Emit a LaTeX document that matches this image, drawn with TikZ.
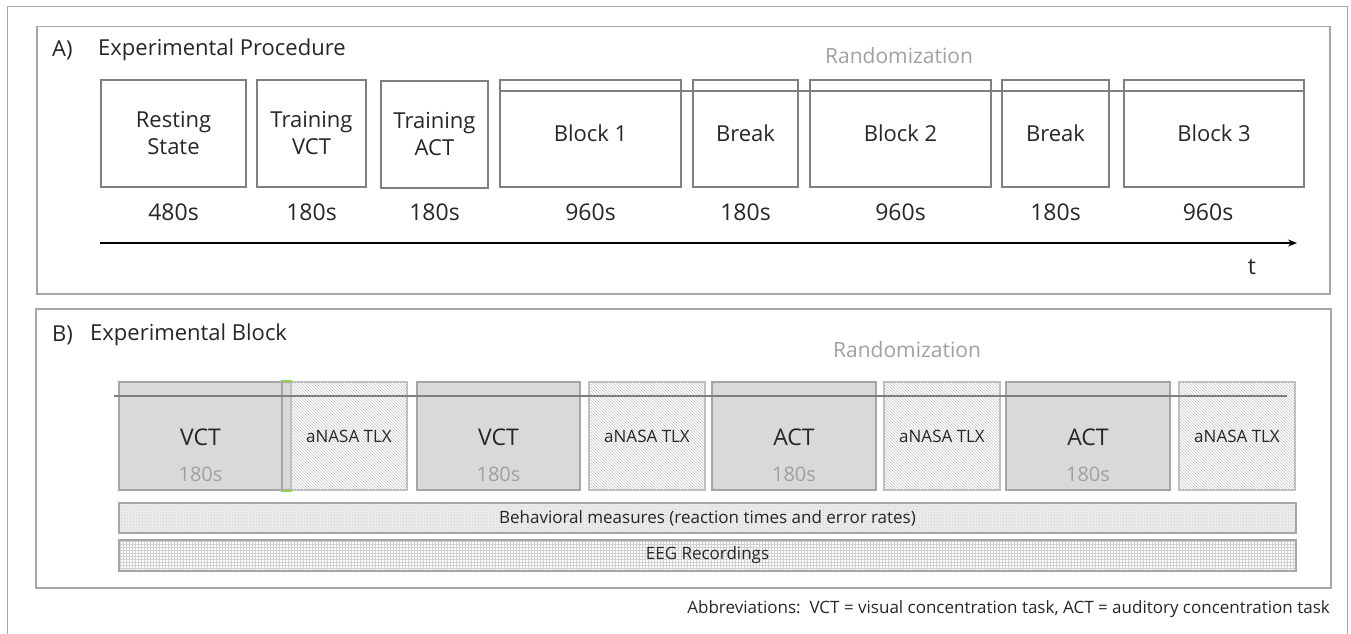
\documentclass[tikz,border=0pt]{standalone}
\usepackage{fontspec}
\setmainfont{Open Sans}
\usetikzlibrary{patterns,arrows.meta}
\definecolor{boxgray}{HTML}{7F7F7F}
\definecolor{framegray}{HTML}{A6A6A6}
\definecolor{fillgray}{HTML}{D9D9D9}
\definecolor{edgegray}{HTML}{A6A6A6}
\definecolor{hatchgray}{HTML}{C4C4C4}
\definecolor{lightedge}{HTML}{C0C0C0}
\definecolor{softtext}{HTML}{A0A0A0}
\definecolor{maintext}{HTML}{262626}
\definecolor{greentick}{HTML}{92D050}
\begin{document}
\begin{tikzpicture}[x=1pt,y=-1pt,
  panel/.style={draw=framegray,line width=1.5pt},
  abox/.style={draw=boxgray,line width=2pt,anchor=north west,inner sep=0pt,
    align=center,text=maintext,font=\fontsize{22}{27}\selectfont,minimum height=107pt},
  dur/.style={text=maintext,font=\fontsize{23}{27}\selectfont,inner sep=0pt},
  title/.style={text=maintext,font=\fontsize{22}{26}\selectfont,anchor=west,inner sep=0pt},
  randtext/.style={text=softtext,font=\fontsize{21}{25}\selectfont,inner sep=0pt},
  taskbox/.style={draw=edgegray,line width=2pt,fill=fillgray,anchor=north west,inner sep=0pt,
    minimum height=108pt},
  nasabox/.style={draw=lightedge,line width=2pt,anchor=north west,inner sep=0pt,
    minimum height=108pt,preaction={fill=white},pattern=north west lines,pattern color=hatchgray,
    text=maintext,font=\fontsize{17}{20}\selectfont},
  tasklabel/.style={text=maintext,font=\fontsize{23}{27}\selectfont,inner sep=0pt},
  tasktime/.style={text=softtext,font=\fontsize{20}{24}\selectfont,inner sep=0pt},
  barbox/.style={draw=edgegray,line width=2pt,anchor=north west,inner sep=0pt,
    minimum width=1177pt},
  bartext/.style={text=maintext,font=\fontsize{17}{20}\selectfont,inner sep=0pt},
  randline/.style={draw=boxgray,line width=2.5pt}]
\useasboundingbox (0,0) rectangle (1351,634);
% outer frame (bottom edge outside the picture)
\draw[draw=framegray,line width=1.5pt] (7.5,640) -- (7.5,6.5) -- (1347.5,6.5) -- (1347.5,640);
% ---------------- Panel A ----------------
\node[panel,anchor=north west,minimum width=1293pt,minimum height=267pt,inner sep=0pt] (panA) at (36,26) {};
\node[title] (labA) at (52,50) {A)};
\node[title] (titA) at (98,50) {Experimental Procedure};
\node[randtext] (randA) at (899,56) {Randomization};

\node[abox,minimum width=145pt] (rs) at (100,79) {Resting\\State};
\node[abox,minimum width=109pt] (tv) at (256,79) {Training\\VCT};
\node[abox,minimum width=107pt] (ta) at (380,80) {Training\\ACT};
\node[abox,minimum width=181pt] (b1) at (499,79) {Block 1};
\node[abox,minimum width=105pt] (br1) at (692,79) {Break};
\node[abox,minimum width=181pt] (b2) at (809,79) {Block 2};
\node[abox,minimum width=107pt] (br2) at (1001,79) {Break};
\node[abox,minimum width=180pt] (b3) at (1123,79) {Block 3};
\coordinate (ra1) at (499,91);
\coordinate (ra2) at (1303,91);
\draw[randline] (ra1) -- (ra2);

\node[dur] (d1) at (rs.center |- 0,212) {480s};
\node[dur] (d2) at (tv.center |- 0,212) {180s};
\node[dur] (d3) at (ta.center |- 0,212) {180s};
\node[dur] (d4) at (b1.center |- 0,212) {960s};
\node[dur] (d5) at (br1.center |- 0,212) {180s};
\node[dur] (d6) at (b2.center |- 0,212) {960s};
\node[dur] (d7) at (br2.center |- 0,212) {180s};
\node[dur] (d8) at (1208,212) {960s};

\coordinate (tstart) at (100,243);
\coordinate (tend) at (1297,243);
\draw[line width=2pt,-{Stealth[length=9pt,width=7pt]}] (tstart) -- (tend);
\node[dur] (tlab) at (1252,267) {t};

% ---------------- Panel B ----------------
\node[panel,anchor=north west,minimum width=1295pt,minimum height=279pt,inner sep=0pt] (panB) at (35,308) {};
\node[title] (labB) at (52,335) {B)};
\node[title] (titB) at (90,335) {Experimental Block};
\node[randtext] (randB) at (907,350) {Randomization};

\node[taskbox,minimum width=163pt] (vct1) at (118,381) {};
\node[taskbox,minimum width=9pt] (strip) at (281,381) {};
\node[nasabox,minimum width=116pt] (n1) at (290,381) {aNASA TLX};
\node[taskbox,minimum width=163pt] (vct2) at (416,381) {};
\node[nasabox,minimum width=116pt] (n2) at (588,381) {aNASA TLX};
\node[taskbox,minimum width=164pt] (act1) at (711,381) {};
\node[nasabox,minimum width=116pt] (n3) at (883,381) {aNASA TLX};
\node[taskbox,minimum width=164pt] (act2) at (1005,381) {};
\node[nasabox,minimum width=116pt] (n4) at (1178,381) {aNASA TLX};

\draw[greentick,line width=1.5pt] (strip.north west) -- (strip.north east);
\draw[greentick,line width=1.5pt] (strip.south west) -- (strip.south east);

\foreach \b/\t in {vct1/VCT,vct2/VCT,act1/ACT,act2/ACT}{
  \node[tasklabel] (\b-name) at ([yshift=-1pt]\b.center) {\t};
  \node[tasktime] (\b-time) at ([yshift=-38pt]\b.center) {180s};
}

\coordinate (rb1) at (114,396);
\coordinate (rb2) at (1287,396);
\draw[randline] (rb1) -- (rb2);

\node[barbox,minimum height=30pt,preaction={fill=white!93!black},pattern=crosshatch dots,pattern color=white!80!black] (beh) at (118,502) {};
\node[bartext] (behlab) at (beh.center) {Behavioral measures (reaction times and error rates)};
\node[barbox,minimum height=31pt,preaction={fill=white},pattern=grid,pattern color=white!82!black] (eeg) at (118,539) {};
\node[bartext] (eeglab) at (eeg.center) {EEG Recordings};

\node[bartext,anchor=east] (abbr) at (1330,609)
  {Abbreviations:\ \ VCT = visual concentration task, ACT = auditory concentration task};
\end{tikzpicture}
\end{document}
